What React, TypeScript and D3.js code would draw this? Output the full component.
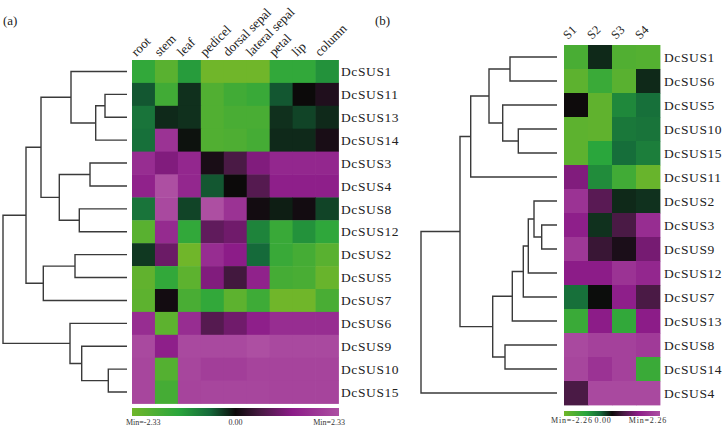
import React from "react";
import * as d3 from "d3";

// ---------- Panel (a): tissues ----------
const tissues = ["root", "stem", "leaf", "pedicel", "dorsal sepal", "lateral sepal", "petal", "lip", "column"];
const genesA = ["DcSUS1", "DcSUS11", "DcSUS13", "DcSUS14", "DcSUS3", "DcSUS4", "DcSUS8", "DcSUS12", "DcSUS2", "DcSUS5", "DcSUS7", "DcSUS6", "DcSUS9", "DcSUS10", "DcSUS15"];
const valuesA: number[][] = [
  [-1.40, -1.98, -1.17, -2.33, -2.33, -2.33, -1.40, -1.40, -1.05],
  [-0.47, -1.63, -0.23, -1.86, -1.63, -1.51, -0.47, 0.00, 0.19],
  [-0.70, -0.19, -0.23, -1.86, -1.75, -1.75, -0.23, -0.35, -0.19],
  [-0.65, 1.75, -0.05, -1.86, -1.82, -1.68, -0.19, -0.19, 0.12],
  [1.63, 1.17, 1.51, 0.12, 0.58, 1.17, 1.51, 1.51, 1.51],
  [1.40, 2.33, 1.51, -0.47, 0.00, 0.70, 1.35, 1.35, 1.35],
  [-0.70, 2.21, -0.35, 2.33, 1.75, 0.07, -0.12, 0.07, -0.35],
  [-1.98, 1.58, -1.40, 0.82, 0.98, -0.89, -1.51, -1.05, -1.35],
  [-0.28, 0.93, -2.33, 1.63, 1.28, -0.58, -1.51, -1.68, -1.98],
  [-2.10, -1.40, -2.05, 1.17, 0.51, 1.40, -1.68, -1.75, -2.21],
  [-2.05, 0.07, -1.75, -1.40, -2.05, -1.58, -2.33, -2.33, -1.75],
  [1.63, -2.05, 1.63, 0.70, 0.98, 1.35, 1.63, 1.63, 1.63],
  [2.21, 1.35, 2.21, 2.21, 2.21, 2.33, 2.21, 2.21, 2.21],
  [2.14, -1.91, 2.14, 1.98, 1.98, 2.10, 2.10, 2.10, 2.10],
  [2.14, -1.68, 2.10, 2.14, 2.14, 2.14, 2.10, 2.10, 2.10],
];
// merges: [childA, childB, height]; "nK" refers to the K-th merge
const mergesA: [string, string, number][] = [
  ["DcSUS11", "DcSUS13", 22],
  ["n0", "DcSUS14", 31.3],
  ["DcSUS1", "n1", 56],
  ["DcSUS3", "DcSUS4", 37],
  ["DcSUS8", "DcSUS12", 47.7],
  ["n3", "n4", 67.7],
  ["n2", "n5", 86],
  ["DcSUS2", "DcSUS5", 52],
  ["n7", "DcSUS7", 83.7],
  ["n6", "n8", 101],
  ["DcSUS10", "DcSUS15", 18.7],
  ["DcSUS9", "n10", 45.3],
  ["DcSUS6", "n11", 57],
  ["n9", "n12", 124],
];
const limitA = 2.33;

// ---------- Panel (b): stages ----------
const stages = ["S1", "S2", "S3", "S4"];
const genesB = ["DcSUS1", "DcSUS6", "DcSUS5", "DcSUS10", "DcSUS15", "DcSUS11", "DcSUS2", "DcSUS3", "DcSUS9", "DcSUS12", "DcSUS7", "DcSUS13", "DcSUS8", "DcSUS14", "DcSUS4"];
const valuesB: number[][] = [
  [-1.70, -0.18, -1.81, -1.85],
  [-1.99, -1.47, -1.92, -0.18],
  [0.02, -2.03, -0.90, -0.63],
  [-1.99, -2.03, -0.72, -0.68],
  [-1.99, -1.24, -0.61, -0.79],
  [1.13, -0.95, -1.58, -2.15],
  [1.70, 0.72, -0.18, -0.23],
  [1.31, -0.23, 0.57, 1.58],
  [1.81, 0.41, 0.14, 1.02],
  [1.24, 1.24, 1.70, 1.47],
  [-0.63, -0.02, 1.31, 0.57],
  [-1.47, 1.24, -1.36, 1.24],
  [2.15, 1.99, 1.99, 1.85],
  [2.08, 1.70, 1.99, -1.47],
  [0.57, 2.15, 2.15, 2.15],
];
const mergesB: [string, string, number][] = [
  ["DcSUS1", "DcSUS6", 47],
  ["DcSUS10", "DcSUS15", 38.7],
  ["DcSUS5", "n1", 54.3],
  ["n0", "n2", 68],
  ["n3", "DcSUS11", 86.3],
  ["DcSUS3", "DcSUS9", 15.3],
  ["DcSUS2", "n5", 23],
  ["n6", "DcSUS12", 28.7],
  ["n7", "DcSUS7", 33.7],
  ["n8", "DcSUS13", 44.7],
  ["DcSUS8", "DcSUS14", 52],
  ["n9", "n10", 64.3],
  ["n4", "n11", 97],
  ["n12", "DcSUS4", 136],
];
const limitB = 2.26;

// colour ramp (relative positions -1..1)
const rampStops = [-1, -0.55, -0.25, 0, 0.25, 0.55, 1];
const rampColors = ["#70b62a", "#2aa63c", "#156a3a", "#0c0a0a", "#4a1a45", "#8c1c88", "#ad4fa2"];

const FONT = "'Liberation Serif', 'Times New Roman', serif";
const LINE = "#3a3a3a";

function makeColor(limit: number) {
  return d3
    .scaleLinear<string>()
    .domain(rampStops.map((s) => s * limit))
    .range(rampColors)
    .interpolate(d3.interpolateRgb)
    .clamp(true);
}

function Dendro({
  leaves,
  merges,
  y,
  x,
}: {
  leaves: string[];
  merges: [string, string, number][];
  y: d3.ScaleBand<string>;
  x: d3.ScaleLinear<number, number>;
}) {
  const pos = new Map<string, { x: number; y: number }>();
  leaves.forEach((l) => pos.set(l, { x: x(0), y: (y(l) as number) + y.bandwidth() / 2 }));
  const paths: string[] = [];
  merges.forEach(([a, b, h], i) => {
    const pa = pos.get(a)!;
    const pb = pos.get(b)!;
    const nx = x(h);
    const ny = (pa.y + pb.y) / 2;
    pos.set("n" + i, { x: nx, y: ny });
    paths.push(`M${pa.x},${pa.y}H${nx}V${pb.y}H${pb.x}`);
  });
  return (
    <g>
      {paths.map((d, i) => (
        <path key={i} d={d} fill="none" stroke={LINE} strokeWidth={1.4} />
      ))}
    </g>
  );
}

function Heat({
  genes,
  cols,
  values,
  x,
  y,
  color,
}: {
  genes: string[];
  cols: string[];
  values: number[][];
  x: d3.ScaleBand<string>;
  y: d3.ScaleBand<string>;
  color: (v: number) => string;
}) {
  return (
    <g>
      {genes.map((g, r) =>
        cols.map((c, k) => (
          <rect
            key={g + c}
            x={x(c)}
            y={y(g)}
            width={x.bandwidth() + 0.4}
            height={y.bandwidth() + 0.4}
            fill={color(values[r][k])}
          />
        ))
      )}
    </g>
  );
}

function Legend({
  id,
  x0,
  x1,
  y0,
  h,
  limit,
  ty,
  fs,
  ls,
  labelOffsets,
}: {
  id: string;
  x0: number;
  x1: number;
  y0: number;
  h: number;
  limit: number;
  ty: number;
  fs: number;
  ls: number;
  labelOffsets: [number, number, number];
}) {
  return (
    <g>
      <defs>
        <linearGradient id={id} x1="0" x2="1" y1="0" y2="0">
          {rampStops.map((s, i) => (
            <stop key={i} offset={(s + 1) / 2} stopColor={rampColors[i]} />
          ))}
        </linearGradient>
      </defs>
      <rect x={x0} y={y0} width={x1 - x0} height={h} fill={`url(#${id})`} />
      <g fontFamily={FONT} fontSize={fs} fill="#333" letterSpacing={ls}>
        <text x={x0 + labelOffsets[0]} y={ty} textAnchor="start">
          {`Min=-${limit.toFixed(2)}`}
        </text>
        <text x={(x0 + x1) / 2 + labelOffsets[1]} y={ty} textAnchor="middle">
          {(0).toFixed(2)}
        </text>
        <text x={x1 + labelOffsets[2]} y={ty} textAnchor="end">
          {`Min=${limit.toFixed(2)}`}
        </text>
      </g>
    </g>
  );
}

export default function App() {
  // panel a scales
  const xA = d3.scaleBand<string>().domain(tissues).range([132, 338.5]);
  const yA = d3.scaleBand<string>().domain(genesA).range([60, 403.5]);
  const dA = d3.scaleLinear().domain([0, 124]).range([127, 3]);
  const colorA = makeColor(limitA);

  // panel b scales
  const xB = d3.scaleBand<string>().domain(stages).range([564, 660]);
  const yB = d3.scaleBand<string>().domain(genesB).range([45, 405]);
  const dB = d3.scaleLinear().domain([0, 136]).range([557, 421]);
  const colorB = makeColor(limitB);

  return (
    <svg
      width={722}
      height={426}
      style={{ position: "absolute", left: 0, top: 0, background: "#fff" }}
      fontFamily={FONT}
    >
      <rect width={722} height={426} fill="#fff" />
      <text x={3} y={25} fontSize={13} fill="#222">(a)</text>
      <text x={375} y={25} fontSize={13} fill="#222">(b)</text>

      {/* Panel a */}
      <Dendro leaves={genesA} merges={mergesA} y={yA} x={dA} />
      <Heat genes={genesA} cols={tissues} values={valuesA} x={xA} y={yA} color={colorA} />
      <g fontSize={13} fill="#222">
        {tissues.map((t) => {
          const cx = (xA(t) as number) + xA.bandwidth() / 2 - 7;
          const cy = 57;
          return (
            <text key={t} x={cx} y={cy} transform={`rotate(-45,${cx},${cy})`}>
              {t}
            </text>
          );
        })}
      </g>
      <g fontSize={13.5} fill="#222" letterSpacing={0.6}>
        {genesA.map((g) => (
          <text key={g} x={341} y={(yA(g) as number) + yA.bandwidth() / 2} dy="0.35em">
            {g}
          </text>
        ))}
      </g>
      <Legend id="gA" x0={132} x1={339} y0={408} h={8} limit={limitA} ty={424.5} fs={8} ls={0} labelOffsets={[-6, 0, 6]} />

      {/* Panel b */}
      <Dendro leaves={genesB} merges={mergesB} y={yB} x={dB} />
      <Heat genes={genesB} cols={stages} values={valuesB} x={xB} y={yB} color={colorB} />
      <g fontSize={12.5} fill="#222">
        {stages.map((s) => {
          const cx = (xB(s) as number) + xB.bandwidth() / 2 - 8;
          const cy = 40;
          return (
            <text key={s} x={cx} y={cy} transform={`rotate(-45,${cx},${cy})`}>
              {s}
            </text>
          );
        })}
      </g>
      <g fontSize={13.5} fill="#222" letterSpacing={0.6}>
        {genesB.map((g) => (
          <text key={g} x={664} y={(yB(g) as number) + yB.bandwidth() / 2} dy="0.35em">
            {g}
          </text>
        ))}
      </g>
      <Legend id="gB" x0={564} x1={660} y0={411} h={5} limit={limitB} ty={423} fs={8} ls={0.8} labelOffsets={[-13, -9, 7]} />
    </svg>
  );
}
